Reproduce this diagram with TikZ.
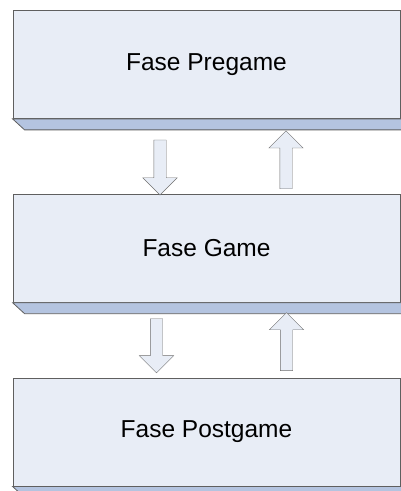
\documentclass[tikz,border=0pt]{standalone}
\usepackage{fontspec}
\setmainfont{Liberation Sans}
\usepackage{tikz}
\usetikzlibrary{arrows.meta, positioning, shapes.arrows, calc}
\usepackage{xcolor}
\definecolor{boxface}{RGB}{232, 237, 246}
\definecolor{boxedge}{RGB}{95, 95, 95}
\definecolor{boxshade}{RGB}{180, 196, 224}
\definecolor{arrowedge}{RGB}{110, 110, 110}

\begin{document}
\begin{tikzpicture}[
    x=1pt, y=1pt,
    node distance=75pt,
    % 阶段框样式
    phase/.style={
        rectangle, draw=boxedge, thick, fill=boxface,
        minimum width=387pt, minimum height=108pt, inner sep=0pt,
        align=center, font=\fontsize{24.5}{29}\selectfont
    },
    % 阴影样式
    shade/.style={draw=boxedge, thick, fill=boxshade},
    % 箭头样式
    blockarrow/.style={
        single arrow, draw=arrowedge, fill=boxface,
        single arrow head extend=11pt,
        inner xsep=0pt, inner ysep=6pt
    },
    downarrow/.style={blockarrow, rotate=-90},
    uparrow/.style={blockarrow, rotate=90},
]
\useasboundingbox (0,0) rectangle (401,491);

% ==================== 阶段 ====================
\node[phase] (pregame) at (206.5,426.5) {Fase Pregame};
\node[phase, below=of pregame] (game) {Fase Game};
\node[phase, below=of game] (postgame) {Fase Postgame};

% 底部阴影
\foreach \p in {pregame, game, postgame} {
    \draw[shade] (\p.south west) -- ++(12,-11) -- ($(\p.south east)+(1,-11)$)
        -- ($(\p.south east)+(1,0)$) -- cycle;
}

% ==================== 箭头 ====================
\node[downarrow, minimum height=55pt] (down1) at ($(pregame.south)+(-46.5,-45.5)$) {};
\node[uparrow, minimum height=58pt] (up1) at ($(pregame.south)+(79.5,-44)$) {};

\node[downarrow, minimum height=54pt] (down2) at ($(game.south)+(-50,-40)$) {};
\node[uparrow, minimum height=58pt] (up2) at ($(game.south)+(80,-42)$) {};

\end{tikzpicture}
\end{document}
